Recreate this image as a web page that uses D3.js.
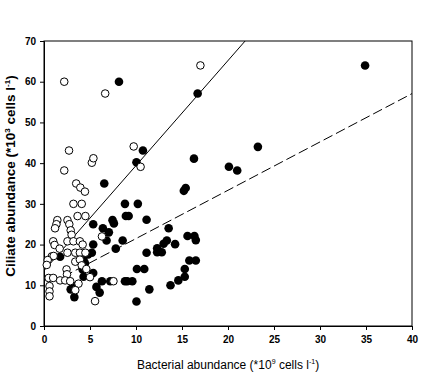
<!DOCTYPE html>
<html><head><meta charset="utf-8">
<script src="https://cdn.jsdelivr.net/npm/d3@7"></script>
<style>body{margin:0;background:#fff}svg{display:block}</style>
</head><body>
<script>
// Open circles (series 1)
const openX = [2.2,6.65,17.0,9.75,2.72,5.2,5.37,10.5,2.2,3.5,3.95,4.45,3.2,4.1,3.65,4.5,1.45,1.35,1.2,2.55,2.75,2.9,3.0,6.3,1.0,1.15,1.7,2.55,3.2,3.9,4.2,2.55,3.4,3.9,4.5,0.85,1.05,0.4,0.3,3.4,3.9,4.1,2.45,2.5,5.0,0.5,1.0,1.75,2.3,2.85,0.6,0.6,0.6,3.75,5.55,3.4,7.55,4.6];
const openY = [60.0,57.1,64.0,44.1,43.1,40.1,41.2,39.1,38.2,35.0,34.0,33.0,30.0,30.0,27.0,27.0,26.0,25.0,24.0,26.0,25.0,23.5,22.4,22.0,20.8,19.9,19.0,20.8,20.8,20.8,20.0,18.0,18.0,18.0,18.0,17.1,17.2,16.2,15.0,15.8,16.3,14.9,13.9,12.7,12.0,11.8,11.8,11.2,11.2,11.0,9.8,8.5,7.3,10.4,6.1,8.8,11.0,14.0];
// Filled circles (series 2)
const fillX = [8.15,16.7,34.9,10.75,10.05,16.3,20.1,21.0,23.25,6.55,15.2,15.4,8.8,10.2,8.9,9.2,11.15,7.45,7.6,5.35,6.4,7.05,6.8,13.55,8.55,7.8,5.35,4.8,1.75,4.3,4.45,4.2,4.3,5.35,5.7,6.05,6.3,7.2,8.8,9.05,9.6,2.9,3.2,3.3,10.1,10.9,11.15,11.45,10.05,12.3,12.3,12.8,13.0,13.35,14.25,15.6,16.35,16.5,15.8,16.5,15.3,15.3,14.6,13.75,5.2];
const fillY = [60.0,57.1,64.0,43.1,40.2,41.1,39.1,38.2,44.0,35.0,33.2,33.9,30.0,30.0,27.0,27.0,26.1,26.0,25.2,25.0,24.0,23.0,21.0,24.0,21.0,19.0,20.0,17.6,17.0,16.2,15.4,13.9,12.1,13.0,9.6,8.2,11.0,11.0,11.0,11.0,11.0,9.0,9.8,7.1,14.0,14.0,18.0,9.0,6.0,19.1,18.1,18.1,20.2,21.0,20.1,22.1,22.1,21.1,16.1,16.1,14.0,12.1,11.2,10.0,18.0];
// Regression lines: [intercept, slope, xStart, xEnd]
const lineSolid = [13.6, 2.58, 0, 40];
const lineDashed = [9.6, 1.187, 2.1, 40];
const xTicks = [0,5,10,15,20,25,30,35,40];
const yTicks = [0,10,20,30,40,50,60,70];

const W = 447, H = 375;
const m = {l:44, t:41, r:35, b:49};
const svg = d3.select("body").append("svg").attr("width",W).attr("height",H);
const x = d3.scaleLinear().domain([0,40]).range([m.l, W-m.r]);
const y = d3.scaleLinear().domain([0,70]).range([H-m.b, m.t]);

svg.append("defs").append("clipPath").attr("id","clip")
  .append("rect").attr("x",m.l).attr("y",m.t).attr("width",W-m.r-m.l).attr("height",H-m.b-m.t);

// frame
svg.append("rect").attr("x",m.l).attr("y",m.t).attr("width",W-m.r-m.l).attr("height",H-m.b-m.t)
  .attr("fill","none").attr("stroke","#000").attr("stroke-width",1);

const xAxis = svg.append("g").attr("transform",`translate(0,${H-m.b})`)
  .call(d3.axisBottom(x).tickValues(xTicks).tickSize(4).tickPadding(6));
const yAxis = svg.append("g").attr("transform",`translate(${m.l},0)`)
  .call(d3.axisLeft(y).tickValues(yTicks).tickSize(4).tickPadding(4));
[xAxis,yAxis].forEach(a=>{
  a.selectAll("text").attr("font-family","Liberation Sans, Arial, sans-serif").attr("font-size",10).attr("font-weight","bold").attr("fill","#000");
  a.select(".domain").attr("stroke","#000");
  a.selectAll(".tick line").attr("stroke","#000");
});

const g = svg.append("g").attr("clip-path","url(#clip)");
function drawLine(p, dash){
  const pts = [[p[2], p[0]+p[1]*p[2]],[p[3], p[0]+p[1]*p[3]]];
  g.append("path").attr("d", d3.line().x(d=>x(d[0])).y(d=>y(d[1]))(pts))
    .attr("fill","none").attr("stroke","#000").attr("stroke-width",1)
    .attr("stroke-dasharray", dash || null);
}
drawLine(lineSolid);
drawLine(lineDashed, "10,4");

const fillData = fillX.map((v,i)=>[v,fillY[i]]);
const openData = openX.map((v,i)=>[v,openY[i]]);
svg.append("g").selectAll("circle").data(fillData).join("circle")
  .attr("cx",d=>x(d[0])).attr("cy",d=>y(d[1])).attr("r",4.3).attr("fill","#000");
svg.append("g").selectAll("circle").data(openData).join("circle")
  .attr("cx",d=>x(d[0])).attr("cy",d=>y(d[1])).attr("r",3.8).attr("fill","#fff").attr("stroke","#000").attr("stroke-width",1);

// axis titles
const xt = svg.append("text").attr("x",228).attr("y",369).attr("text-anchor","middle")
  .attr("font-family","Liberation Sans, Arial, sans-serif").attr("font-size",12).attr("fill","#000");
xt.append("tspan").text("Bacterial abundance (*10");
xt.append("tspan").attr("dy",-5).attr("font-size",7).text("9");
xt.append("tspan").attr("dy",5).text(" cells l");
xt.append("tspan").attr("dy",-5).attr("font-size",7).text("-1");
xt.append("tspan").attr("dy",5).text(")");

const yt = svg.append("text").attr("transform","translate(15,176) rotate(-90)").attr("text-anchor","middle")
  .attr("font-family","Liberation Sans, Arial, sans-serif").attr("font-size",13.5).attr("font-weight","bold").attr("fill","#000");
yt.append("tspan").text("Ciliate abundance (*10");
yt.append("tspan").attr("dy",-5).attr("font-size",8).text("3");
yt.append("tspan").attr("dy",5).text(" cells l");
yt.append("tspan").attr("dy",-5).attr("font-size",8).text("-1");
yt.append("tspan").attr("dy",5).text(")");
</script>
</body></html>
